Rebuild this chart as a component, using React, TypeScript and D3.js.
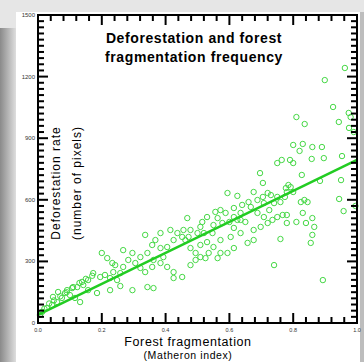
import React from "react";
import * as d3 from "d3";

// fragmentation index (x) and deforestation pixels (y)
const fragX = [
  0.962, 0.899, 0.925, 0.974, 0.98, 0.81, 0.836, 0.943, 0.975, 0.99,
  0.8, 0.83, 0.86, 0.82, 0.89, 0.896, 0.858, 0.953, 0.75, 0.8,
  0.764, 0.79, 0.696, 0.705, 0.827, 0.884, 0.95, 0.944, 0.958, 0.995,
  0.835, 0.845, 0.785, 0.78, 0.774, 0.75, 0.73, 0.72, 0.705, 0.676,
  0.688, 0.66, 0.667, 0.688, 0.708, 0.725, 0.735, 0.75, 0.767, 0.72,
  0.698, 0.676, 0.65, 0.625, 0.614, 0.635, 0.6, 0.78, 0.78, 0.81,
  0.83, 0.84, 0.86, 0.866, 0.86, 0.855, 0.76, 0.74, 0.893, 0.594,
  0.625, 0.64, 0.614, 0.588, 0.572, 0.556, 0.563, 0.578, 0.55, 0.53,
  0.515, 0.509, 0.5, 0.52, 0.547, 0.53, 0.509, 0.55, 0.572, 0.535,
  0.525, 0.509, 0.494, 0.478, 0.494, 0.468, 0.456, 0.437, 0.452, 0.472,
  0.478, 0.415, 0.425, 0.405, 0.384, 0.368, 0.336, 0.358, 0.343, 0.321,
  0.296, 0.283, 0.267, 0.305, 0.336, 0.384, 0.393, 0.405, 0.425, 0.452,
  0.425, 0.362, 0.343, 0.296, 0.258, 0.226, 0.2, 0.217, 0.242, 0.236,
  0.195, 0.21, 0.173, 0.157, 0.142, 0.185, 0.132, 0.116, 0.1, 0.085,
  0.075, 0.06, 0.044, 0.028, 0.013, 0.006, 0.157, 0.138, 0.123, 0.107,
  0.091, 0.063, 0.047, 0.258, 0.267, 0.321, 0.358, 0.362, 0.233, 0.226,
  0.248, 0.614, 0.594, 0.563, 0.478, 0.462, 0.384, 0.572, 0.604, 0.657,
  0.676, 0.614, 0.635, 0.635, 0.708, 0.74, 0.76, 0.777, 0.792, 0.8,
  0.824, 0.02, 0.035, 0.05, 0.07, 0.09, 0.11, 0.13, 0.15, 0.17,
];
const deforY = [
  1242, 1183, 1052, 1023, 1003, 1003, 969, 979, 950, 930,
  867, 872, 857, 838, 857, 803, 799, 813, 779, 779,
  794, 794, 730, 682, 721, 692, 696, 604, 545, 570,
  599, 589, 672, 638, 614, 614, 623, 633, 614, 638,
  599, 589, 565, 536, 516, 550, 502, 516, 526, 487,
  468, 453, 492, 502, 463, 438, 492, 526, 487, 492,
  536, 487, 511, 468, 429, 390, 409, 282, 209, 633,
  619, 575, 560, 536, 550, 541, 511, 487, 477, 516,
  492, 468, 438, 438, 438, 394, 380, 370, 341, 341,
  316, 321, 307, 282, 341, 511, 453, 438, 419, 419,
  453, 453, 404, 370, 365, 404, 429, 380, 341, 321,
  341, 307, 355, 292, 248, 292, 321, 273, 248, 224,
  219, 170, 175, 160, 180, 160, 341, 316, 282, 248,
  224, 234, 243, 209, 185, 146, 102, 122, 136, 146,
  122, 102, 88, 73, 54, 39, 160, 200, 175, 170,
  160, 151, 127, 243, 273, 268, 273, 307, 292, 219,
  209, 365, 341, 316, 365, 404, 438, 404, 419, 390,
  404, 516, 536, 502, 584, 584, 589, 657, 662, 638,
  589, 70, 95, 110, 130, 150, 175, 195, 215, 230,
];
const fitStart = 40;
const fitEnd = 795;
const yTicks = [0, 300, 600, 900, 1200, 1500];
const xTicks = [0, 0.2, 0.4, 0.6, 0.8, 1.0];

const W = 364;
const H = 362;
const margin = { top: 15, right: 7, bottom: 39, left: 38 };

export default function App() {
  const x = d3.scaleLinear().domain([0, 1]).range([margin.left, W - margin.right]);
  const y = d3.scaleLinear().domain([0, 1500]).range([H - margin.bottom, margin.top]);
  const x0 = margin.left;
  const x1 = W - margin.right;
  const y0 = H - margin.bottom;
  const y1 = margin.top;

  const minorY = d3.range(0, 1501, 30);
  const minorX = d3.range(0, 1.0001, 0.04);
  const green = "#45d845";

  const fit = d3
    .line<number>()
    .x((d) => x(d))
    .y((d) => y(fitStart + (fitEnd - fitStart) * d));

  return (
    <svg
      width={W}
      height={H}
      style={{ position: "absolute", left: 0, top: 0 }}
      fontFamily="Liberation Sans, Arial, sans-serif"
    >
      <defs>
        <linearGradient id="leftShade" x1="0" y1="0" x2="1" y2="0">
          <stop offset="0%" stopColor="#8a8a8a" />
          <stop offset="100%" stopColor="#dedede" />
        </linearGradient>
      </defs>
      <rect width={W} height={H} fill="#e6e6e6" />
      <rect x={0} y={28} width={16} height={H - 28} fill="url(#leftShade)" />
      <rect x={16} y={12} width={344} height={H - 12} fill="#ffffff" />
      <rect x={360} y={12} width={4} height={H - 12} fill="#bdbdbd" />

      {/* title */}
      <text x={194} y={43} textAnchor="middle" fontSize={14} fontWeight="bold" letterSpacing={0.6}>
        Deforestation and forest
      </text>
      <text x={194} y={62} textAnchor="middle" fontSize={14} fontWeight="bold" letterSpacing={0.6}>
        fragmentation frequency
      </text>

      {/* points */}
      {fragX.map((v, i) => (
        <circle
          key={i}
          cx={x(v)}
          cy={y(deforY[i])}
          r={2.7}
          fill="none"
          stroke={green}
          strokeWidth={1}
        />
      ))}

      {/* regression line */}
      <path d={fit([0, 1]) || ""} stroke="#22cc22" strokeWidth={2.5} fill="none" />

      {/* ticks on all four sides */}
      <g stroke="#000" strokeWidth={2}>
        {minorY.map((t, i) => {
          const major = t % 300 === 0;
          return (
            <g key={"my" + i}>
              <line x1={x0} x2={x0 + (major ? 10 : 6)} y1={y(t)} y2={y(t)} />
              <line x1={x1} x2={x1 - (major ? 10 : 6)} y1={y(t)} y2={y(t)} />
            </g>
          );
        })}
        {minorX.map((t, i) => {
          const major = Math.abs(t * 5 - Math.round(t * 5)) < 1e-6;
          return (
            <g key={"mx" + i}>
              <line x1={x(t)} x2={x(t)} y1={y0} y2={y0 - (major ? 10 : 6)} />
              <line x1={x(t)} x2={x(t)} y1={y1} y2={y1 + (major ? 10 : 6)} />
            </g>
          );
        })}
      </g>

      {/* frame */}
      <rect x={x0} y={y1} width={x1 - x0} height={y0 - y1} fill="none" stroke="#000" strokeWidth={2} />

      {/* tick labels */}
      {yTicks.map((t) => (
        <text key={"yl" + t} x={x0 - 3} y={y(t) + 2} textAnchor="end" fontSize={6} fill="#333">
          {t}
        </text>
      ))}
      {xTicks.map((t) => (
        <text key={"xl" + t} x={x(t)} y={y0 + 9} textAnchor="middle" fontSize={5.5} fill="#333">
          {t.toFixed(1)}
        </text>
      ))}

      {/* axis titles */}
      <text
        transform={`translate(60,${183}) rotate(-90)`}
        textAnchor="middle"
        fontSize={12}
        letterSpacing={1}
      >
        Deforestation rate
      </text>
      <text
        transform={`translate(81,${183}) rotate(-90)`}
        textAnchor="middle"
        fontSize={12}
        letterSpacing={1}
      >
        (number of pixels)
      </text>
      <text x={188} y={345.5} textAnchor="middle" fontSize={12.5} letterSpacing={0.6}>
        Forest fragmentation
      </text>
      <text x={188} y={359} textAnchor="middle" fontSize={10.5} letterSpacing={0.6}>
        (Matheron index)
      </text>
    </svg>
  );
}
